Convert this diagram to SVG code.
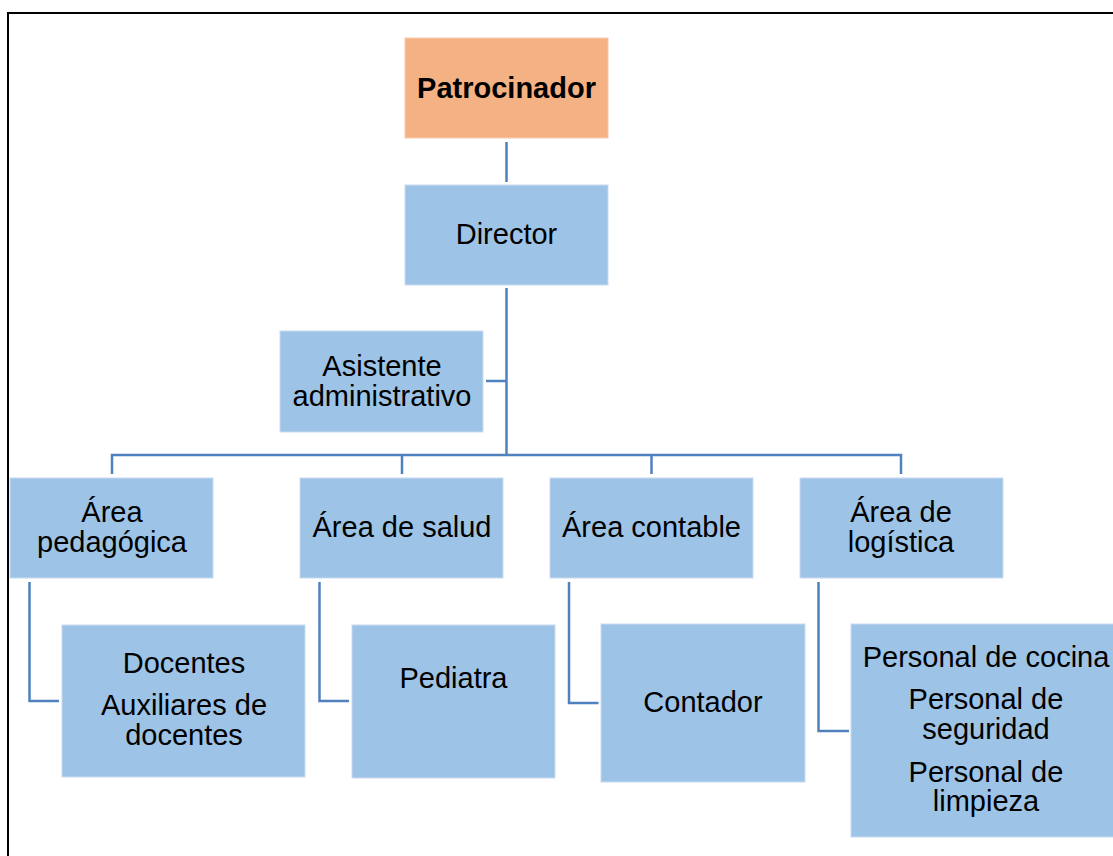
<svg xmlns="http://www.w3.org/2000/svg" width="1113" height="856" viewBox="0 0 1113 856">
<style>
.box{fill:#9dc3e6;stroke:#c9dcef;stroke-width:1}
.top{fill:#f4b183;stroke:#f8cbad;stroke-width:1}
.t{font-family:"Liberation Sans",Arial,sans-serif;font-size:29px;fill:#000;text-anchor:middle}
.b{font-weight:bold}
.c{fill:none;stroke:#4f81bd;stroke-width:2.5}
</style>
<rect x="0" y="0" width="1113" height="856" fill="#fff"/>
<rect x="8" y="13" width="1125" height="870" fill="none" stroke="#000" stroke-width="2"/>
<g id="connectors">
<path class="c" d="M506.5 142V182"/>
<path class="c" d="M506.5 288V455"/>
<path class="c" d="M486 381H506.5"/>
<path class="c" d="M112 474V455H901V474"/>
<path class="c" d="M402 455V474"/>
<path class="c" d="M651.5 455V474"/>
<path class="c" d="M29.5 582V701H59"/>
<path class="c" d="M319.5 582V701H349"/>
<path class="c" d="M569 582V703H598.5"/>
<path class="c" d="M818.5 582V731H849"/>
</g>
<g id="patrocinador">
<rect class="top" x="405" y="38" width="203" height="100"/>
<text class="t b" x="506.5" y="98">Patrocinador</text>
</g>
<g id="director">
<rect class="box" x="405" y="185" width="203" height="100"/>
<text class="t" x="506.5" y="244">Director</text>
</g>
<g id="asistente">
<rect class="box" x="280" y="331" width="203" height="101"/>
<text class="t" x="382" y="376">Asistente</text>
<text class="t" x="382" y="406">administrativo</text>
</g>
<g id="area-pedagogica">
<rect class="box" x="10" y="478" width="203" height="100"/>
<text class="t" x="112" y="522">Área</text>
<text class="t" x="112" y="552">pedagógica</text>
</g>
<g id="area-salud">
<rect class="box" x="300" y="478" width="203" height="100"/>
<text class="t" x="402" y="537">Área de salud</text>
</g>
<g id="area-contable">
<rect class="box" x="550" y="478" width="203" height="100"/>
<text class="t" x="651.5" y="537">Área contable</text>
</g>
<g id="area-logistica">
<rect class="box" x="800" y="478" width="203" height="100"/>
<text class="t" x="901" y="522">Área de</text>
<text class="t" x="901" y="552">logística</text>
</g>
<g id="docentes">
<rect class="box" x="62" y="625" width="243" height="152"/>
<text class="t" x="184" y="673">Docentes</text>
<text class="t" x="184" y="715">Auxiliares de</text>
<text class="t" x="184" y="745">docentes</text>
</g>
<g id="pediatra">
<rect class="box" x="352" y="625" width="203" height="153"/>
<text class="t" x="453.5" y="688">Pediatra</text>
</g>
<g id="contador">
<rect class="box" x="601" y="624" width="204" height="158"/>
<text class="t" x="703" y="712">Contador</text>
</g>
<g id="personal">
<rect class="box" x="851" y="624" width="270" height="213"/>
<text class="t" x="986" y="667">Personal de cocina</text>
<text class="t" x="986" y="709">Personal de</text>
<text class="t" x="986" y="739">seguridad</text>
<text class="t" x="986" y="782">Personal de</text>
<text class="t" x="986" y="811">limpieza</text>
</g>
</svg>
